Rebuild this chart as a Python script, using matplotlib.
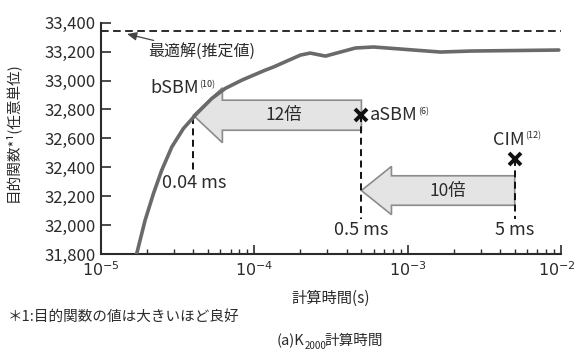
import matplotlib
matplotlib.use("Agg")
import matplotlib.pyplot as plt
from matplotlib.patches import Polygon
from matplotlib.transforms import ScaledTranslation
from matplotlib.ticker import FuncFormatter, LogLocator, NullFormatter, FixedLocator

plt.rcParams['font.family'] = ['Noto Sans CJK JP', 'DejaVu Sans']
plt.rcParams['lines.scale_dashes'] = False

# Objective value vs. computation time (K2000)
curve_time = [1.68e-5, 1.71e-5, 1.94e-5, 2.20e-5, 2.49e-5, 2.90e-5, 3.45e-5, 4.22e-5,
              5.29e-5, 6.46e-5, 8.31e-5, 1.18e-4, 1.33e-4, 2.0e-4, 2.32e-4, 2.91e-4,
              4.57e-4, 6.0e-4, 1.64e-3, 2.58e-3, 9.7e-3]
curve_value = [31780, 31802, 32033, 32218, 32379, 32541, 32668, 32772,
               32876, 32945, 33003, 33072, 33093, 33176, 33190, 33169,
               33225, 33232, 33197, 33204, 33211]
best_estimate = 33340

solver_names = ["bSBM", "aSBM", "CIM"]
solver_refs = ["(10)", "(6)", "(12)"]
solver_time = [4.0e-5, 5.0e-4, 5.0e-3]
solver_value = [32748, 32760, 32456]
time_labels = ["0.04 ms", "0.5 ms", "5 ms"]
speedup_labels = ["12倍", "10倍"]

y_ticks = [31800, 32000, 32200, 32400, 32600, 32800, 33000, 33200, 33400]
x_ticks = [1e-5, 1e-4, 1e-3, 1e-2]
x_tick_labels = [r"$10^{-5}$", r"$10^{-4}$", r"$10^{-3}$", r"$10^{-2}$"]

ink = "#2b2b2b"
fig = plt.figure(figsize=(5.77, 3.51), dpi=100)
ax = fig.add_axes([0.175, 0.2764, 0.797, 0.6589])
ax.set_xscale("log")
ax.set_xlim(1e-5, 1e-2)
ax.set_ylim(31800, 33400)

for s in ("top", "right"):
    ax.spines[s].set_visible(False)
for s in ("left", "bottom"):
    ax.spines[s].set_color(ink)
    ax.spines[s].set_linewidth(1.5)

ax.yaxis.set_major_locator(FixedLocator(y_ticks))
ax.yaxis.set_major_formatter(FuncFormatter(lambda v, p: f"{v:,.0f}"))
ax.xaxis.set_major_locator(FixedLocator(x_ticks))
ax.set_xticklabels(x_tick_labels)
ax.xaxis.set_minor_locator(LogLocator(base=10, subs=range(2, 10)))
ax.xaxis.set_minor_formatter(NullFormatter())
ax.tick_params(axis="y", which="major", direction="in", length=7, width=1.2,
               colors=ink, labelsize=12, pad=4)
ax.tick_params(axis="x", which="major", direction="in", length=6.5, width=1.2,
               colors=ink, labelsize=11.5, pad=5)
ax.tick_params(axis="x", which="minor", direction="in", length=3.5, width=1.0,
               colors=ink)
# keep the last decade label inside the canvas
last_lbl = ax.get_xticklabels()[-1]
last_lbl.set_transform(last_lbl.get_transform()
                       + ScaledTranslation(-3 / 72, 0, fig.dpi_scale_trans))

# estimated optimum
ax.axhline(best_estimate, color=ink, lw=1.4, dashes=(5.5, 3.2))
ax.annotate("最適解(推定値)", xy=(1.48e-5, 33322), xytext=(2.03e-5, 33197),
            fontsize=11.5, color=ink, ha="left", va="center",
            arrowprops=dict(arrowstyle="-|>,head_length=0.5,head_width=0.22",
                            color="#444444", lw=0.9, shrinkA=1, shrinkB=0))

# objective curve
ax.plot(curve_time, curve_value, color="#6a6a6a", lw=2.6, solid_capstyle="round",
        solid_joinstyle="round", zorder=4)


def block_arrow(tail_x, tip_x, yc, body_half, head_half, head_dec):
    base_x = tip_x * 10 ** head_dec
    verts = [(tail_x, yc + body_half), (base_x, yc + body_half),
             (base_x, yc + head_half), (tip_x, yc),
             (base_x, yc - head_half), (base_x, yc - body_half),
             (tail_x, yc - body_half)]
    ax.add_patch(Polygon(verts, closed=True, facecolor="#e4e4e4",
                         edgecolor="#8c8c8c", lw=1.2, zorder=2))


block_arrow(solver_time[1], solver_time[0], solver_value[1], 104, 190, 0.19)
block_arrow(solver_time[2], solver_time[1], 32239, 102, 167, 0.196)
ax.text(1.55e-4, solver_value[1], speedup_labels[0], fontsize=12.5, color=ink,
        ha="center", va="center", zorder=5)
ax.text(1.82e-3, 32239, speedup_labels[1], fontsize=12.5, color=ink,
        ha="center", va="center", zorder=5)

# vertical guide lines down to the time labels
guide_bottom = [32375, 32045, 32045]
for t, v, b in zip(solver_time, solver_value, guide_bottom):
    ax.plot([t, t], [v, b], color="#111111", lw=1.4, dashes=(5, 3.2), zorder=3)

ax.plot(solver_time[1:], solver_value[1:], linestyle="none", marker="x",
        ms=8, mew=2.8, color="#111111", zorder=6)

ax.text(2.51e-5, 32289, time_labels[0], fontsize=13, color=ink, ha="left",
        va="center")
ax.text(solver_time[1], 31963, time_labels[1], fontsize=13, color=ink,
        ha="center", va="center")
ax.text(solver_time[2], 31963, time_labels[2], fontsize=13, color=ink,
        ha="center", va="center")


def name_with_ref(text_artist, ref):
    ax.annotate(ref, xy=(1.0, 0.95), xycoords=text_artist, xytext=(0.3, 0),
                textcoords="offset points", fontsize=6.5, color=ink,
                ha="left", va="top")


t_b = ax.text(2.09e-5, 32947, solver_names[0], fontsize=13, color=ink,
              ha="left", va="center")
name_with_ref(t_b, solver_refs[0])
t_a = ax.annotate(solver_names[1], xy=(solver_time[1], solver_value[1]),
                  xytext=(6, 0), textcoords="offset points", fontsize=13,
                  color=ink, ha="left", va="center")
name_with_ref(t_a, solver_refs[1])
t_c = ax.annotate(solver_names[2], xy=(solver_time[2], solver_value[2]),
                  xytext=(-4, 14), textcoords="offset points", fontsize=13,
                  color=ink, ha="center", va="center")
name_with_ref(t_c, solver_refs[2])

ax.set_xlabel("計算時間(s)", fontsize=11, color=ink, labelpad=7)
ax.set_ylabel("目的関数*¹(任意単位)", fontsize=10.5, color=ink)
ax.yaxis.set_label_coords(-0.177, 0.527)

fig.text(0.014, 0.097, "＊1:目的関数の値は大きいほど良好", fontsize=10.5,
         color=ink, ha="left", va="center")

# caption: (a)K_2000 計算時間
cap1 = fig.text(0.48, 0.03, "(a)K", fontsize=10.5, color=ink, ha="left",
                va="center")
ax.annotate("2000", xy=(1.0, 0.15), xycoords=cap1, fontsize=7, color=ink,
            ha="left", va="center", annotation_clip=False)
ax.annotate("計算時間", xy=(1.0, 0.5), xycoords=cap1, xytext=(14, 0),
            textcoords="offset points", fontsize=10.5, color=ink,
            ha="left", va="center", annotation_clip=False)

fig.savefig("out.png", dpi=100)
